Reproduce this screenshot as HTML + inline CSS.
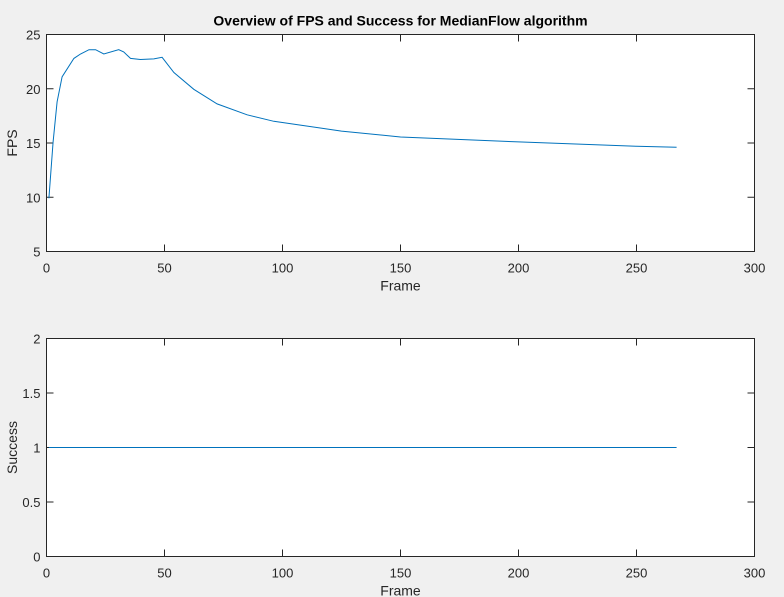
<!DOCTYPE html>
<html><head><meta charset="utf-8"><style>
html,body{margin:0;padding:0;background:#f0f0f0;}
svg{display:block;font-family:"Liberation Sans",Arial,sans-serif;}
</style></head><body>
<svg id="fig" width="784" height="597" viewBox="0 0 784 597" xmlns="http://www.w3.org/2000/svg">
<rect width="784" height="597" fill="#f0f0f0"/>
</svg>
<script>
const fpsFrames = [1,2.8,4.5,6.6,11.6,14.4,18,20.8,24.3,30.6,32.7,35.6,39.8,45.5,49,54,62.4,72.3,85,96.3,107.6,125,150,200,250,267];
const fpsValues = [9.9,15.1,18.8,21.1,22.8,23.2,23.6,23.6,23.2,23.6,23.4,22.8,22.7,22.75,22.9,21.5,19.95,18.6,17.6,17.0,16.65,16.1,15.55,15.1,14.7,14.6];
const successFrames = [1,267];
const successValues = [1,1];
const xTicks = [0,50,100,150,200,250,300];
const fpsTicks = [5,10,15,20,25];
const successTicks = [0,0.5,1,1.5,2];

const NS='http://www.w3.org/2000/svg';
const svg=document.getElementById('fig');
function mk(tag,attrs,parent){const e=document.createElementNS(NS,tag);for(const k in attrs)e.setAttribute(k,attrs[k]);(parent||svg).appendChild(e);return e;}

function axes(name,top,bottom,ymin,ymax,yt,xs,ys,ylabel,title){
  const L=46.5,R=754.5;
  const g=mk('g',{});
  
  
  const X=v=>L+(v-0)/(300-0)*(R-L);
  const Y=v=>bottom-(v-ymin)/(ymax-ymin)*(bottom-top);
  const bg=mk('rect',{x:L,y:top,width:R-L,height:bottom-top,fill:'#fff',stroke:'none'},g);
  
  
  xTicks.forEach(t=>{
    mk('line',{x1:X(t),x2:X(t),y1:bottom,y2:bottom-7,stroke:'#262626','stroke-width':1},g);
    mk('line',{x1:X(t),x2:X(t),y1:top,y2:top+7,stroke:'#262626','stroke-width':1},g);
    const tx=mk('text',{x:X(t),y:bottom+21,'text-anchor':'middle','font-size':13,fill:'#262626'},g);
    tx.textContent=t;
    
    
  });
  yt.forEach(t=>{
    mk('line',{x1:L,x2:L+7,y1:Y(t),y2:Y(t),stroke:'#262626','stroke-width':1},g);
    mk('line',{x1:R,x2:R-7,y1:Y(t),y2:Y(t),stroke:'#262626','stroke-width':1},g);
    const tx=mk('text',{x:L-6,y:Y(t)+5,'text-anchor':'end','font-size':13,fill:'#262626'},g);
    tx.textContent=t;
    
    
  });
  mk('rect',{x:L,y:top,width:R-L,height:bottom-top,fill:'none',stroke:'#262626','stroke-width':1},g);
  const pts=xs.map((v,i)=>X(v).toFixed(1)+','+Y(ys[i]).toFixed(1)).join(' ');
  const line=mk('polyline',{points:pts,fill:'none',stroke:'#0072bd','stroke-width':1},g);
  
  
  const xl=mk('text',{x:(L+R)/2,y:bottom+39,'text-anchor':'middle','font-size':14,fill:'#262626'},g);
  xl.textContent='Frame';
  
  
  const yl=mk('text',{x:0,y:0,'text-anchor':'middle','font-size':14,fill:'#262626',transform:`translate(17,${(top+bottom)/2}) rotate(-90)`},g);
  yl.textContent=ylabel;
  
  
  if(title){
    const tt=mk('text',{x:(L+R)/2,y:top-9,'text-anchor':'middle','font-size':14,'font-weight':'bold',fill:'#000'},g);
    tt.textContent=title;
    
    
  }
}
axes('fps-axes',34.5,251.5,5,25,fpsTicks,fpsFrames,fpsValues,'FPS','Overview of FPS and Success for MedianFlow algorithm');
axes('success-axes',338.5,556.5,0,2,successTicks,successFrames,successValues,'Success',null);
</script>
</body></html>
